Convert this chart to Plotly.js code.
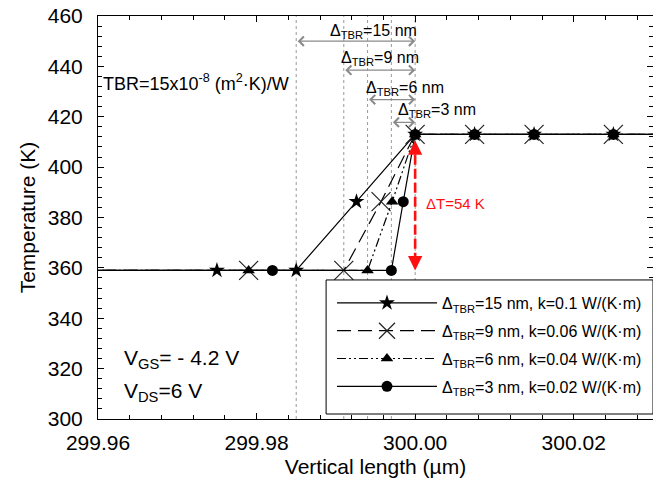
<!DOCTYPE html>
<html><head><meta charset="utf-8">
<script src="https://cdn.plot.ly/plotly-3.0.1.min.js"></script>
<style>html,body{margin:0;padding:0;background:#fff}#chart{width:653px;height:486px}</style>
</head><body><div id="chart"></div><script>
// Temperature along the vertical direction around the thermal boundary layer
const lenTBR15 = [299.95, 299.975, 299.985, 299.9926, 300.000, 300.0075, 300.015, 300.025, 300.04];
const tempTBR15 = [359.0, 359.0, 359.0, 386.3, 413.0, 413.0, 413.0, 413.0, 413.0];
const lenTBR9 = [299.95, 299.979, 299.991, 299.9957, 300.000, 300.0075, 300.015, 300.025, 300.04];
const tempTBR9 = [359.0, 359.0, 359.0, 386.3, 413.0, 413.0, 413.0, 413.0, 413.0];
const lenTBR6 = [299.95, 299.979, 299.994, 299.9971, 300.000, 300.0075, 300.015, 300.025, 300.04];
const tempTBR6 = [359.0, 359.0, 359.0, 386.3, 413.0, 413.0, 413.0, 413.0, 413.0];
const lenTBR3 = [299.95, 299.982, 299.997, 299.9985, 300.000, 300.0075, 300.015, 300.025, 300.04];
const tempTBR3 = [359.0, 359.0, 359.0, 386.3, 413.0, 413.0, 413.0, 413.0, 413.0];

const seriesNames = [
  'Δ<sub>TBR</sub>=15 nm, k=0.1 W/(K·m)',
  'Δ<sub>TBR</sub>=9 nm, k=0.06 W/(K·m)',
  'Δ<sub>TBR</sub>=6 nm, k=0.04 W/(K·m)',
  'Δ<sub>TBR</sub>=3 nm, k=0.02 W/(K·m)'
];
const deltaNm = [15, 9, 6, 3];
const deltaLabels = ['Δ<sub>TBR</sub>=15 nm', 'Δ<sub>TBR</sub>=9 nm', 'Δ<sub>TBR</sub>=6 nm', 'Δ<sub>TBR</sub>=3 nm'];
const interfaceX = 300.000;
const tempLow = 359.0;
const tempHigh = 413.0;
const deltaT = 54;
const xTicks = [299.96, 299.98, 300.00, 300.02];
const yTicks = [300, 320, 340, 360, 380, 400, 420, 440, 460];

const FONT = 'Liberation Sans, Arial, sans-serif';

function series(x, y, name, group, dash, marker) {
  return {
    x: x, y: y, name: name, legendgroup: group, type: 'scatter', mode: 'lines+markers',
    line: {color: '#000', width: 1.2, dash: dash},
    marker: marker
  };
}

const traces = [
  series(lenTBR15, tempTBR15, seriesNames[0], 'a', 'solid',
    {symbol: 'star', size: 12, color: '#000', line: {width: 0}}),
  series(lenTBR9, tempTBR9, seriesNames[1], 'b', '14px,7px',
    {symbol: 'x-thin-open', size: 19, color: '#222', line: {width: 1.2, color: '#222'}}),
  series(lenTBR6, tempTBR6, seriesNames[2], 'c', '9px,3px,2px,3px,2px,3px',
    {symbol: 'triangle-up', size: 11, color: '#000', line: {width: 0}}),
  series(lenTBR3, tempTBR3, seriesNames[3], 'd', 'solid',
    {symbol: 'circle', size: 11, color: '#000', line: {width: 0}})
];

// step start positions (interface minus layer thickness, nm -> µm)
const stepStart = deltaNm.map(d => +(interfaceX - d / 1000).toFixed(4));

const shapes = [];
stepStart.concat([interfaceX]).forEach(x => {
  shapes.push({type: 'line', xref: 'x', yref: 'paper', x0: x, x1: x, y0: 0, y1: 1,
    layer: 'below', line: {color: '#9a9a9a', width: 1, dash: 'dot'}});
});
// temperature jump marker
shapes.push({type: 'line', xref: 'x', yref: 'y', x0: interfaceX, x1: interfaceX,
  y0: tempLow + 3, y1: tempHigh - 5, line: {color: '#ff1010', width: 2.6, dash: '10px,4px'}});
// legend frame
shapes.push({type: 'rect', xref: 'paper', yref: 'paper', x0: 0.411, x1: 1.0, y0: 0.0124, y1: 0.345,
  layer: 'above', fillcolor: '#fff', line: {color: '#000', width: 1}});

const annotations = [];
const arrowY = [450, 438.5, 426.8, 417.8];
const labelPos = [[299.9948, 454.0], [299.9956, 443.0], [299.9987, 431.3], [300.0027, 422.4]];
stepStart.forEach((x, i) => {
  annotations.push({x: interfaceX, y: arrowY[i], ax: x, ay: arrowY[i], xref: 'x', yref: 'y',
    axref: 'x', ayref: 'y', text: '', showarrow: true, arrowside: 'end+start',
    arrowhead: 4, arrowsize: 1.4, arrowwidth: 1.3, arrowcolor: '#8a8a8a'});
  annotations.push({x: labelPos[i][0], y: labelPos[i][1], xref: 'x', yref: 'y', text: deltaLabels[i],
    showarrow: false, xanchor: 'center', yanchor: 'middle', font: {family: FONT, size: 16, color: '#000'}});
});
// red arrow heads
annotations.push({x: interfaceX, y: tempHigh, xref: 'x', yref: 'y', ax: 0, ay: 12, text: '',
  showarrow: true, arrowhead: 2, arrowsize: 1.1, arrowwidth: 2.6, arrowcolor: '#ff1010', standoff: 6});
annotations.push({x: interfaceX, y: tempLow, xref: 'x', yref: 'y', ax: 0, ay: -12, text: '',
  showarrow: true, arrowhead: 2, arrowsize: 1.1, arrowwidth: 2.6, arrowcolor: '#ff1010', standoff: 0});
annotations.push({x: 300.0011, y: 385.5, xref: 'x', yref: 'y', text: 'ΔT=' + deltaT + ' K',
  showarrow: false, xanchor: 'left', yanchor: 'middle', font: {family: FONT, size: 15, color: '#ff1010'}});
annotations.push({x: 0.006, y: 0.835, xref: 'paper', yref: 'paper',
  text: 'TBR=15x10<sup>-8</sup> (m<sup>2</sup>·K)/W', showarrow: false, xanchor: 'left', yanchor: 'middle',
  font: {family: FONT, size: 18, color: '#000'}});
annotations.push({x: 0.043, y: 0.150, xref: 'paper', yref: 'paper',
  text: 'V<sub>GS</sub>= - 4.2 V', showarrow: false, xanchor: 'left', yanchor: 'middle',
  font: {family: FONT, size: 21, color: '#000'}});
annotations.push({x: 0.043, y: 0.068, xref: 'paper', yref: 'paper',
  text: 'V<sub>DS</sub>=6 V', showarrow: false, xanchor: 'left', yanchor: 'middle',
  font: {family: FONT, size: 21, color: '#000'}});

const axisCommon = {
  showline: true, linecolor: '#000', linewidth: 1, mirror: 'ticks', ticks: 'inside',
  ticklen: 6, tickwidth: 1, tickcolor: '#000', showgrid: false, zeroline: false,
  tickfont: {family: FONT, size: 21, color: '#000'}
};

const layout = {
  width: 653, height: 486,
  margin: {l: 98, r: 0, t: 16, b: 67},
  paper_bgcolor: '#fff', plot_bgcolor: '#fff',
  font: {family: FONT, color: '#000'},
  showlegend: true,
  xaxis: Object.assign({}, axisCommon, {
    range: [299.96, 300.03], tickvals: xTicks, tickformat: '.2f', ticklabelstandoff: 5,
    minor: {dtick: 0.004, tick0: 299.96, ticks: 'inside', ticklen: 4, tickcolor: '#000'},
    title: {text: 'Vertical length (µm)', font: {family: FONT, size: 21, color: '#000'}, standoff: 6}
  }),
  yaxis: Object.assign({}, axisCommon, {
    range: [300, 460], tickvals: yTicks, ticklabelstandoff: 10,
    minor: {dtick: 4, tick0: 300, ticks: 'inside', ticklen: 4, tickcolor: '#000'},
    title: {text: 'Temperature (K)', font: {family: FONT, size: 21, color: '#000'}, standoff: 6}
  }),
  legend: {
    x: 0.4216, y: 0.330, xanchor: 'left', yanchor: 'top',
    bgcolor: 'rgba(0,0,0,0)', borderwidth: 0,
    font: {family: FONT, size: 16, color: '#000'},
    itemwidth: 100, tracegroupgap: 4, traceorder: 'grouped'
  },
  shapes: shapes,
  annotations: annotations
};

Plotly.newPlot('chart', traces, layout, {displayModeBar: false, staticPlot: true});
</script></body></html>
